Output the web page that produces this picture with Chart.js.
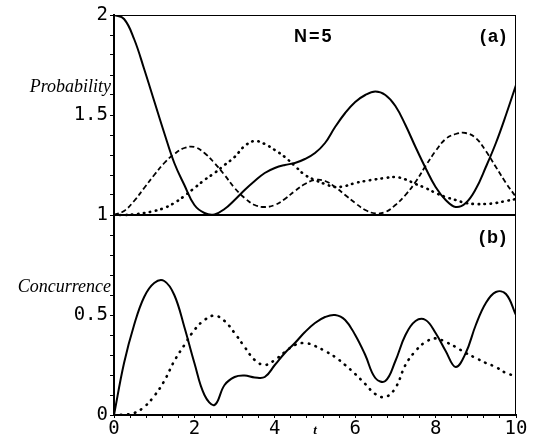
<!DOCTYPE html>
<html>
<head>
<meta charset="utf-8">
<script src="https://cdn.jsdelivr.net/npm/chart.js@4.4.1/dist/chart.umd.min.js"></script>
<style>
  html, body { margin: 0; padding: 0; background: #fff; }
  #wrap { width: 538px; height: 441px; }
</style>
</head>
<body>
<div id="wrap"><canvas id="chart"></canvas></div>
<script>
// time axis shared by every curve
const times = [0, 0.25, 0.5, 0.75, 1, 1.25, 1.5, 1.75, 2, 2.25, 2.5, 2.75, 3, 3.25, 3.5, 3.75, 4, 4.25, 4.5, 4.75,
               5, 5.25, 5.5, 5.75, 6, 6.25, 6.5, 6.75, 7, 7.25, 7.5, 7.75, 8, 8.25, 8.5, 8.75, 9, 9.25, 9.5, 9.75, 10];

// panel (a): probabilities (plotted on the 1..2 band)
const probSolid = [2.0, 1.98, 1.88, 1.73, 1.57, 1.41, 1.26, 1.15, 1.05, 1.01, 1.003, 1.03, 1.075, 1.125, 1.17, 1.21, 1.235, 1.25, 1.26, 1.28,
                   1.31, 1.36, 1.44, 1.51, 1.565, 1.6, 1.617, 1.6, 1.545, 1.45, 1.34, 1.235, 1.14, 1.075, 1.04, 1.06, 1.13, 1.24, 1.36, 1.5, 1.65];
const probDashed = [1.0, 1.02, 1.07, 1.135, 1.2, 1.26, 1.305, 1.335, 1.34, 1.31, 1.26, 1.2, 1.135, 1.085, 1.05, 1.04, 1.05, 1.08, 1.12, 1.155,
                    1.175, 1.17, 1.14, 1.1, 1.06, 1.025, 1.008, 1.015, 1.05, 1.1, 1.165, 1.245, 1.32, 1.38, 1.405, 1.41, 1.385, 1.32, 1.24, 1.16, 1.09];
const probDotted = [1.0, 1.0, 1.003, 1.01, 1.02, 1.035, 1.06, 1.095, 1.135, 1.175, 1.21, 1.25, 1.29, 1.345, 1.37, 1.355, 1.325, 1.29, 1.245, 1.2,
                    1.175, 1.155, 1.14, 1.145, 1.16, 1.17, 1.178, 1.185, 1.19, 1.178, 1.155, 1.135, 1.11, 1.09, 1.075, 1.06, 1.055, 1.055, 1.06, 1.07, 1.08];

// panel (b): concurrence (plotted on the 0..1 band)
const concSolid = [0, 0.26, 0.45, 0.59, 0.66, 0.67, 0.6, 0.44, 0.26, 0.1, 0.05, 0.15, 0.19, 0.197, 0.188, 0.19, 0.25, 0.31, 0.36, 0.415,
                   0.46, 0.49, 0.5, 0.475, 0.4, 0.3, 0.185, 0.17, 0.27, 0.4, 0.47, 0.475, 0.41, 0.32, 0.24, 0.31, 0.45, 0.56, 0.615, 0.605, 0.5];
const concDotted = [0, 0.002, 0.01, 0.04, 0.095, 0.17, 0.27, 0.35, 0.425, 0.475, 0.497, 0.47, 0.41, 0.34, 0.275, 0.25, 0.275, 0.315, 0.35, 0.36,
                    0.345, 0.32, 0.29, 0.25, 0.205, 0.155, 0.105, 0.09, 0.135, 0.25, 0.32, 0.365, 0.383, 0.365, 0.34, 0.31, 0.285, 0.26, 0.24, 0.21, 0.195];

// tick labels
const yTickLabels = { 0: '0', 5: '0.5', 10: '1', 15: '1.5', 20: '2' };
const xTickLabels = [0, 2, 4, 6, 8, 10];

const pts = ys => times.map((t, i) => ({ x: t, y: ys[i] }));

const solid = { borderColor: '#000', borderWidth: 2, pointRadius: 0, tension: 0.4 };
const dashed = { borderColor: '#000', borderWidth: 1.8, pointRadius: 0, borderDash: [5, 3], tension: 0.4 };
const dotted = { borderColor: '#000', borderWidth: 2.6, pointRadius: 0, borderDash: [0.5, 5.5], borderCapStyle: 'round', tension: 0.4 };

// frame, separator line and text annotations
const decorations = {
  id: 'decorations',
  afterDraw(chart) {
    const { ctx, chartArea: a, scales: { x, y } } = chart;
    ctx.save();
    ctx.strokeStyle = '#000';
    ctx.lineWidth = 1;
    ctx.beginPath();
    ctx.moveTo(a.left, a.top + 0.5); ctx.lineTo(a.right, a.top + 0.5);
    ctx.moveTo(a.right - 0.5, a.top); ctx.lineTo(a.right - 0.5, a.bottom);
    ctx.stroke();
    ctx.lineWidth = 2;
    const ym = y.getPixelForValue(1);
    ctx.beginPath(); ctx.moveTo(a.left, ym); ctx.lineTo(a.right, ym); ctx.stroke();

    ctx.fillStyle = '#000';
    ctx.textBaseline = 'middle';
    ctx.font = 'bold 18px "Liberation Sans", Arial, sans-serif';
    ctx.letterSpacing = '2px';
    ctx.textAlign = 'center';
    ctx.fillText('N=5', x.getPixelForValue(4.97), y.getPixelForValue(1.89));
    ctx.textAlign = 'right';
    ctx.fillText('(a)', x.getPixelForValue(9.8), y.getPixelForValue(1.89));
    ctx.fillText('(b)', x.getPixelForValue(9.8), y.getPixelForValue(0.885));
    ctx.letterSpacing = '0px';

    ctx.font = 'italic 18px "Liberation Serif", "Times New Roman", serif';
    ctx.fillText('Probability', a.left - 3, y.getPixelForValue(1.64));
    ctx.fillText('Concurrence', a.left - 3, y.getPixelForValue(0.64));
    ctx.font = 'italic bold 13px "Liberation Serif", "Times New Roman", serif';
    ctx.textAlign = 'center';
    ctx.fillText('t', x.getPixelForValue(5), a.bottom + 16);
    ctx.restore();
  }
};

new Chart(document.getElementById('chart'), {
  type: 'line',
  data: {
    datasets: [
      { data: pts(probSolid), ...solid },
      { data: pts(probDashed), ...dashed },
      { data: pts(probDotted), ...dotted },
      { data: pts(concSolid), ...solid },
      { data: pts(concDotted), ...dotted, borderDash: [0.5, 6.5] }
    ]
  },
  options: {
    responsive: true,
    maintainAspectRatio: false,
    animation: false,
    layout: { padding: { top: 15, right: 22, left: 0, bottom: 0 } },
    plugins: { legend: { display: false }, tooltip: { enabled: false } },
    scales: {
      x: {
        type: 'linear', min: 0, max: 10,
        afterFit: s => { s.height = 26; },
        border: { display: true, color: '#000', width: 2 },
        grid: { drawOnChartArea: false, color: '#000', tickLength: 3 },
        ticks: {
          stepSize: 0.4, autoSkip: false, maxRotation: 0, padding: 0, color: '#000',
          font: { family: '"DejaVu Sans Mono", monospace', size: 19 },
          callback: v => {
            const r = Math.round(v);
            return Math.abs(v - r) < 1e-6 && xTickLabels.includes(r) ? String(r) : '';
          }
        }
      },
      y: {
        type: 'linear', min: 0, max: 2,
        afterFit: s => { s.width = 114; },
        border: { display: true, color: '#000', width: 2 },
        grid: { drawOnChartArea: false, color: '#000', tickLength: 4 },
        ticks: {
          stepSize: 0.1, autoSkip: false, padding: 2, color: '#000',
          font: { family: '"DejaVu Sans Mono", monospace', size: 19 },
          callback: v => yTickLabels[Math.round(v * 10)] ?? ''
        }
      }
    }
  },
  plugins: [decorations]
});
</script>
</body>
</html>
